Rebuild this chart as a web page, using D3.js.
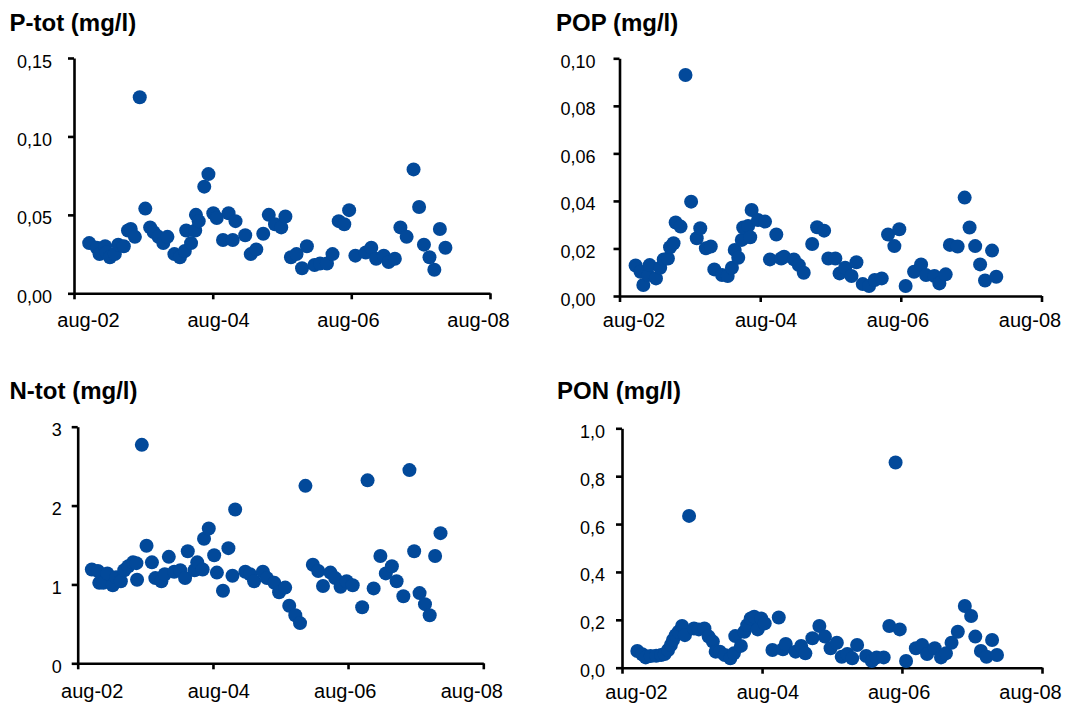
<!DOCTYPE html>
<html>
<head>
<meta charset="utf-8">
<script src="https://cdn.jsdelivr.net/npm/d3@7"></script>
<style>
body { margin: 0; background: #fff; }
svg { display: block; font-family: "Liberation Sans", Arial, sans-serif; }
.title { font-weight: bold; font-size: 24px; }
.axis path, .axis line { stroke: #000; stroke-width: 2.6; }
.axis text { fill: #000; }
</style>
</head>
<body>
<div class="chart"></div>
<script>
//size of the whole picture
var widthSVG = 1065;
var heightSVG = 706;
var dotColor = "#02499a";

//dates are kept as decimal years
var xTickLabels = ["aug-02", "aug-04", "aug-06", "aug-08"];

// P-tot
var ptotDates = [2002.80,2002.91,2002.95,2003.03,2003.05,2003.10,2003.17,2003.22,2003.30,2003.36,
	2003.40,2003.46,2003.53,2003.61,2003.68,2003.73,2003.80,2003.87,2003.93,2004.03,
	2004.11,2004.18,2004.20,2004.27,2004.33,2004.34,2004.38,2004.46,2004.52,2004.59,
	2004.64,2004.73,2004.81,2004.87,2004.91,2005.05,2005.13,2005.21,2005.31,2005.39,
	2005.48,2005.57,2005.63,2005.71,2005.79,2005.87,2005.94,2006.05,2006.13,2006.23,
	2006.31,2006.40,2006.48,2006.55,2006.64,2006.79,2006.87,2006.94,2007.05,2007.12,
	2007.21,2007.29,2007.38,2007.48,2007.56,2007.63,2007.71,2007.78,2007.86,2007.94];
var ptotValues = [0.032,0.029,0.025,0.030,0.026,0.023,0.025,0.031,0.030,0.040,
	0.041,0.036,0.125,0.054,0.042,0.039,0.036,0.032,0.036,0.025,
	0.023,0.027,0.040,0.032,0.040,0.050,0.046,0.068,0.076,0.051,
	0.048,0.034,0.051,0.034,0.046,0.037,0.025,0.028,0.038,0.050,
	0.044,0.042,0.049,0.023,0.025,0.016,0.030,0.018,0.019,0.019,
	0.025,0.046,0.044,0.053,0.024,0.026,0.029,0.022,0.024,0.020,
	0.022,0.042,0.036,0.079,0.055,0.031,0.023,0.015,0.041,0.029];
var ptotTicks = [0, 0.05, 0.10, 0.15];

// POP
var popDates = [2002.81,2002.88,2002.92,2002.99,2003.01,2003.10,2003.16,2003.21,2003.27,2003.30,
	2003.35,2003.38,2003.45,2003.52,2003.60,2003.68,2003.73,2003.81,2003.88,2003.93,
	2004.04,2004.12,2004.18,2004.22,2004.27,2004.32,2004.34,2004.41,2004.44,2004.46,
	2004.55,2004.65,2004.72,2004.81,2004.88,2004.92,2005.06,2005.13,2005.20,2005.32,
	2005.39,2005.49,2005.55,2005.65,2005.71,2005.79,2005.88,2005.95,2006.04,2006.13,
	2006.21,2006.31,2006.40,2006.49,2006.56,2006.65,2006.77,2006.87,2006.94,2007.06,
	2007.13,2007.22,2007.28,2007.39,2007.49,2007.56,2007.64,2007.71,2007.78,2007.88,2007.94];
var popValues = [0.0128,0.0102,0.0046,0.0088,0.0130,0.0074,0.0119,0.0154,0.0158,0.0205,
	0.0222,0.0309,0.0292,0.0930,0.0397,0.0243,0.0285,0.0201,0.0208,0.0112,
	0.0088,0.0084,0.0119,0.0194,0.0161,0.0236,0.0288,0.0295,0.0247,0.0362,
	0.0320,0.0313,0.0154,0.0259,0.0158,0.0165,0.0154,0.0130,0.0098,0.0219,
	0.0289,0.0275,0.0158,0.0158,0.0095,0.0119,0.0084,0.0142,0.0050,0.0042,
	0.0067,0.0074,0.0259,0.0210,0.0281,0.0042,0.0102,0.0133,0.0088,0.0084,
	0.0053,0.0091,0.0215,0.0208,0.0414,0.0288,0.0210,0.0133,0.0065,0.0191,0.0081];
var popTicks = [0, 0.02, 0.04, 0.06, 0.08, 0.10];

// N-tot
var ntotDates = [2002.79,2002.88,2002.90,2002.96,2003.02,2003.10,2003.15,2003.22,2003.27,2003.33,
	2003.40,2003.45,2003.46,2003.53,2003.60,2003.68,2003.73,2003.82,2003.87,2003.93,
	2004.01,2004.10,2004.17,2004.21,2004.31,2004.35,2004.43,2004.45,2004.52,2004.60,
	2004.64,2004.73,2004.81,2004.87,2004.91,2005.06,2005.13,2005.19,2005.32,2005.38,
	2005.49,2005.56,2005.65,2005.71,2005.80,2005.87,2005.95,2006.06,2006.14,2006.21,
	2006.32,2006.39,2006.47,2006.56,2006.65,2006.79,2006.87,2006.96,2007.06,2007.14,
	2007.23,2007.30,2007.40,2007.49,2007.56,2007.64,2007.72,2007.79,2007.87,2007.95];
var ntotValues = [1.19,1.17,1.02,1.02,1.14,0.99,1.09,1.04,1.18,1.23,
	1.28,1.27,1.06,2.77,1.49,1.28,1.08,1.04,1.13,1.35,
	1.16,1.18,1.08,1.42,1.18,1.28,1.19,1.58,1.71,1.37,
	1.15,0.92,1.46,1.11,1.95,1.16,1.13,1.04,1.16,1.08,
	1.02,0.90,0.96,0.73,0.61,0.51,2.25,1.25,1.17,0.98,
	1.15,1.08,0.97,1.04,0.99,0.71,2.32,0.95,1.36,1.14,
	1.23,1.04,0.85,2.45,1.42,0.89,0.75,0.61,1.36,1.65];
var ntotTicks = [0, 1, 2, 3];

// PON
var ponDates = [2002.80,2002.87,2002.92,2002.99,2003.07,2003.14,2003.19,2003.24,2003.28,2003.31,
	2003.35,2003.39,2003.44,2003.48,2003.54,2003.61,2003.68,2003.76,2003.82,2003.88,
	2003.92,2003.98,2004.05,2004.13,2004.18,2004.20,2004.28,2004.33,2004.37,2004.42,
	2004.47,2004.52,2004.57,2004.62,2004.73,2004.82,2004.88,2004.92,2005.06,2005.14,
	2005.20,2005.30,2005.40,2005.48,2005.56,2005.65,2005.72,2005.80,2005.87,2005.94,
	2006.07,2006.15,2006.22,2006.32,2006.40,2006.49,2006.55,2006.64,2006.78,2006.87,
	2006.94,2007.05,2007.14,2007.21,2007.29,2007.38,2007.48,2007.57,2007.63,2007.71,
	2007.79,2007.87,2007.94];
var ponValues = [0.070,0.056,0.043,0.049,0.050,0.053,0.057,0.074,0.095,0.116,
	0.136,0.150,0.174,0.136,0.634,0.164,0.160,0.164,0.130,0.109,
	0.067,0.067,0.053,0.039,0.060,0.132,0.091,0.150,0.178,0.206,
	0.213,0.160,0.206,0.185,0.074,0.210,0.077,0.099,0.067,0.091,
	0.060,0.123,0.174,0.130,0.081,0.104,0.046,0.057,0.039,0.095,
	0.049,0.028,0.043,0.043,0.174,0.857,0.160,0.028,0.081,0.095,
	0.057,0.081,0.043,0.060,0.104,0.150,0.258,0.216,0.130,0.070,
	0.046,0.116,0.053];
var ponTicks = [0, 0.2, 0.4, 0.6, 0.8, 1.0];

//comma as decimal sign
var locale = d3.formatLocale({decimal: ",", thousands: ".", grouping: [3], currency: ["", ""]});

//turn a decimal year into a Date
var toDate = function(y) {
	var yr = Math.floor(y);
	var start = new Date(yr, 0, 1), end = new Date(yr + 1, 0, 1);
	return new Date(+start + (y - yr) * (end - start));
};

var xStart = new Date(2002, 7, 1);
var xEnd = new Date(2008, 7, 1);
var xTickDates = [new Date(2002, 7, 1), new Date(2004, 7, 1), new Date(2006, 7, 1), new Date(2008, 7, 1)];
//Excel spreads the date labels a little tighter than the ticks
var xLabelShift = [14, 5.3, -3.3, -12];

var panels = [
	{title: "P-tot (mg/l)", dates: ptotDates, values: ptotValues, ticks: ptotTicks, fmt: locale.format(".2f"),
	 left: 74, right: 490, top: 58, bottom: 293.3, tx: 9.5, ty: 31, gap: 22, xdy: 34},
	{title: "POP (mg/l)", dates: popDates, values: popValues, ticks: popTicks, fmt: locale.format(".2f"),
	 left: 619.5, right: 1041.5, top: 58.3, bottom: 296, tx: 556, ty: 31, gap: 24, xdy: 31},
	{title: "N-tot (mg/l)", dates: ntotDates, values: ntotValues, ticks: ntotTicks, fmt: locale.format("d"),
	 left: 77.7, right: 483.3, top: 426.7, bottom: 663.3, tx: 9.5, ty: 399, gap: 16, xdy: 35},
	{title: "PON (mg/l)", dates: ponDates, values: ponValues, ticks: ponTicks, fmt: locale.format(".1f"),
	 left: 622, right: 1042, top: 428.3, bottom: 667.7, tx: 557, ty: 399, gap: 17, xdy: 31}
];

var svg = d3.select(".chart")
	.append("svg")
	.attr("width", widthSVG)
	.attr("height", heightSVG);

panels.forEach(function(p) {
	var xScale = d3.scaleTime()
		.domain([xStart, xEnd])
		.range([p.left, p.right]);
	var yScale = d3.scaleLinear()
		.domain([0, p.ticks[p.ticks.length - 1]])
		.range([p.bottom, p.top]);

	//title
	svg.append("text")
		.attr("class", "title")
		.attr("x", p.tx)
		.attr("y", p.ty)
		.text(p.title);

	//y axis
	var yAxis = d3.axisLeft(yScale)
		.tickValues(p.ticks)
		.tickFormat(p.fmt)
		.tickSize(6)
		.tickSizeOuter(0)
		.tickPadding(p.gap - 6);
	var gy = svg.append("g")
		.attr("class", "axis y")
		.attr("transform", "translate(" + p.left + ",0)")
		.call(yAxis);
	gy.selectAll("text")
		.attr("dy", "0.5em")
		.style("font-size", "18px");

	//x axis
	var xAxis = d3.axisBottom(xScale)
		.tickValues(xTickDates)
		.tickFormat(function(d, i) { return xTickLabels[i]; })
		.tickSize(6)
		.tickSizeOuter(0);
	var gx = svg.append("g")
		.attr("class", "axis x")
		.attr("transform", "translate(0," + p.bottom + ")")
		.call(xAxis);
	gx.selectAll("text")
		.attr("y", p.xdy)
		.attr("dy", 0)
		.attr("x", function(d, i) { return xLabelShift[i]; })
		.style("font-size", "20px");

	//points
	svg.append("g")
		.selectAll("circle")
		.data(p.values)
		.enter()
		.append("circle")
		.attr("cx", function(d, i) { return xScale(toDate(p.dates[i])); })
		.attr("cy", function(d) { return yScale(d); })
		.attr("r", 7)
		.attr("fill", dotColor);
});
</script>
</body>
</html>
